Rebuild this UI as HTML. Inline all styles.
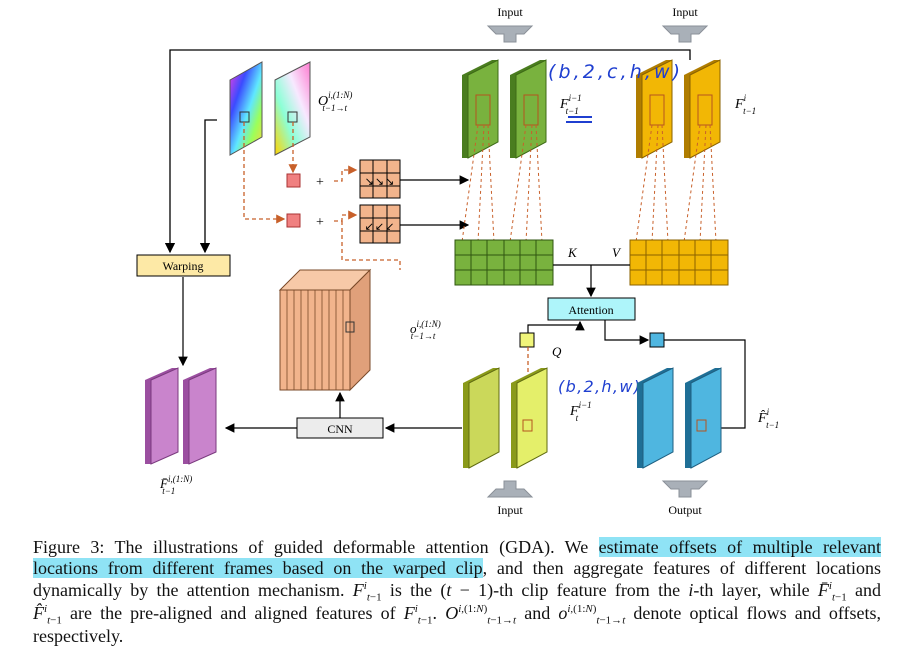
<!DOCTYPE html>
<html><head><meta charset="utf-8">
<style>
body{margin:0;background:#fff;width:901px;height:660px;overflow:hidden;position:relative;font-family:"Liberation Serif",serif;}
svg{position:absolute;left:0;top:0}
.cap{position:absolute;left:33px;width:848px;font-size:18px;line-height:21px;text-align:justify;text-align-last:justify;white-space:nowrap;color:#111}
.hl{background:#8fe3f5}
sub,sup{font-size:11px;line-height:0}
</style></head><body>
<svg width="901" height="530" viewBox="0 0 901 530" font-family="Liberation Serif, serif">
<defs>
<marker id="ar" markerWidth="8" markerHeight="8" refX="7" refY="4" orient="auto"><path d="M0,0L8,4L0,8z" fill="#000"/></marker>
<marker id="aro" markerWidth="7" markerHeight="7" refX="6" refY="3.5" orient="auto"><path d="M0,0L7,3.5L0,7z" fill="#c8602a"/></marker>
<linearGradient id="rb" x1="0" y1="0" x2="1" y2="1"><stop offset="0" stop-color="#ff3de0"/><stop offset=".3" stop-color="#3b4bff"/><stop offset=".55" stop-color="#5fe7ff"/><stop offset=".75" stop-color="#9bff5a"/><stop offset="1" stop-color="#ffd23b"/></linearGradient>
<linearGradient id="rb2" x1="1" y1="0" x2="0" y2="1"><stop offset="0" stop-color="#ff7ad0"/><stop offset=".35" stop-color="#f7e9ff"/><stop offset=".65" stop-color="#8cffd6"/><stop offset="1" stop-color="#ffd400"/></linearGradient>
</defs>
<text x="510" y="16" font-size="12" text-anchor="middle">Input</text>
<path d="M488,26h44l-8,8h-8v8h-12v-8h-8z" fill="#a9b0b8" stroke="#8a9098"/>
<text x="685" y="16" font-size="12" text-anchor="middle">Input</text>
<path d="M663,26h44l-8,8h-8v8h-12v-8h-8z" fill="#a9b0b8" stroke="#8a9098"/>
<polyline points="690,60 690,50 170,50 170,252" fill="none" stroke="#000" stroke-width="1.3" marker-end="url(#ar)"/>
<polyline points="217,120 205,120 205,252" fill="none" stroke="#000" stroke-width="1.3" marker-end="url(#ar)"/>
<polygon points="230,80 262,62 262,137 230,155" fill="url(#rb)" stroke="#555"/>
<polygon points="275,80 310,62 310,137 275,155" fill="url(#rb2)" stroke="#555"/>
<rect x="240" y="112" width="9" height="10" fill="none" stroke="#333"/><rect x="288" y="112" width="9" height="10" fill="none" stroke="#333"/>
<text x="318" y="105" font-size="14" font-style="italic">O<tspan font-size="9" dy="-7">i,(1:N)</tspan><tspan font-size="9" dx="-30" dy="13">t−1→t</tspan></text>
<path d="M244,122V219H284" fill="none" stroke="#c8602a" stroke-dasharray="4,3" stroke-width="1.3" marker-end="url(#aro)"/>
<path d="M293,122V172" fill="none" stroke="#c8602a" stroke-dasharray="4,3" stroke-width="1.3" marker-end="url(#aro)"/>
<rect x="287" y="174" width="13" height="13" fill="#f08080" stroke="#a33"/>
<rect x="287" y="214" width="13" height="13" fill="#f08080" stroke="#a33"/>
<text x="316" y="186" font-size="14">+</text><text x="316" y="226" font-size="14">+</text>
<path d="M334,181H342V170H356" fill="none" stroke="#c8602a" stroke-dasharray="4,3" stroke-width="1.3" marker-end="url(#aro)"/>
<path d="M334,221H342V215H356" fill="none" stroke="#c8602a" stroke-dasharray="4,3" stroke-width="1.3" marker-end="url(#aro)"/>
<path d="M342,221V260H400V270" fill="none" stroke="#c8602a" stroke-dasharray="4,3" stroke-width="1.3"/>
<g>
<rect x="360" y="160" width="40" height="38" fill="#f2b48c" stroke="#000"/>
<path d="M373,160V198M387,160V198M360,173H400M360,186H400" stroke="#000"/>
<text x="380" y="185" font-size="11" text-anchor="middle" letter-spacing="1">↘↘↘</text>
</g>
<g>
<rect x="360" y="205" width="40" height="38" fill="#f2b48c" stroke="#000"/>
<path d="M373,205V243M387,205V243M360,218H400M360,231H400" stroke="#000"/>
<text x="380" y="230" font-size="11" text-anchor="middle" letter-spacing="1">↙↙↙</text>
</g>
<line x1="400" y1="180" x2="468" y2="180" stroke="#000" stroke-width="1.2" marker-end="url(#ar)"/>
<line x1="400" y1="225" x2="468" y2="225" stroke="#000" stroke-width="1.2" marker-end="url(#ar)"/>
<rect x="137" y="255" width="93" height="21" fill="#fde9a6" stroke="#000"/>
<text x="183" y="270" font-size="12" text-anchor="middle">Warping</text>
<line x1="183" y1="277" x2="183" y2="365" stroke="#000" stroke-width="1.2" marker-end="url(#ar)"/>
<g>
<polygon points="145,380 172,368 178,368 178,452 151,464 145,464" fill="#9b4fa0"/>
<polygon points="151,380 178,368 178,452 151,464" fill="#c984cc" stroke="#7a3a7e"/>
<polygon points="183,380 210,368 216,368 216,452 189,464 183,464" fill="#9b4fa0"/>
<polygon points="189,380 216,368 216,452 189,464" fill="#c984cc" stroke="#7a3a7e"/>
</g>
<text x="160" y="488" font-size="13" font-style="italic">F̄<tspan font-size="9" dy="-6">i,(1:N)</tspan><tspan font-size="9" dx="-30" dy="12">t−1</tspan></text>
<rect x="297" y="418" width="86" height="20" fill="#ececec" stroke="#000"/>
<text x="340" y="433" font-size="12" text-anchor="middle">CNN</text>
<line x1="297" y1="428" x2="226" y2="428" stroke="#000" stroke-width="1.2" marker-end="url(#ar)"/>
<line x1="462" y1="428" x2="386" y2="428" stroke="#000" stroke-width="1.2" marker-end="url(#ar)"/>
<line x1="340" y1="418" x2="340" y2="393" stroke="#000" stroke-width="1.2" marker-end="url(#ar)"/>
<g>
<polygon points="280,290 300,270 370,270 350,290" fill="#f7c9a8" stroke="#7a4a2a"/>
<polygon points="350,290 370,270 370,370 350,390" fill="#e0a07a" stroke="#7a4a2a"/>
<rect x="280" y="290" width="70" height="100" fill="#f2b48c" stroke="#7a4a2a"/>
<path d="M287,290v100M294,290v100M301,290v100M308,290v100M315,290v100M322,290v100M329,290v100M336,290v100M343,290v100" stroke="#7a4a2a" stroke-width=".8"/>
<rect x="346" y="322" width="8" height="10" fill="none" stroke="#333"/>
</g>
<text x="410" y="333" font-size="13" font-style="italic">o<tspan font-size="9" dy="-6">i,(1:N)</tspan><tspan font-size="9" dx="-30" dy="12">t−1→t</tspan></text>
<g>
<polygon points="462,75 492,60 498,60 498,142 468,158 462,158" fill="#4a7d1f"/>
<polygon points="468,75 498,60 498,142 468,158" fill="#79b23e" stroke="#3d6a16"/>
<polygon points="510,75 540,60 546,60 546,142 516,158 510,158" fill="#4a7d1f"/>
<polygon points="516,75 546,60 546,142 516,158" fill="#79b23e" stroke="#3d6a16"/>
<rect x="476" y="95" width="14" height="30" fill="none" stroke="#b5541e"/><rect x="524" y="95" width="14" height="30" fill="none" stroke="#b5541e"/>
</g>
<g>
<polygon points="636,75 666,60 672,60 672,142 642,158 636,158" fill="#b07d00"/>
<polygon points="642,75 672,60 672,142 642,158" fill="#f2b705" stroke="#8a6200"/>
<polygon points="684,75 714,60 720,60 720,142 690,158 684,158" fill="#b07d00"/>
<polygon points="690,75 720,60 720,142 690,158" fill="#f2b705" stroke="#8a6200"/>
<rect x="650" y="95" width="14" height="30" fill="none" stroke="#b5541e"/><rect x="698" y="95" width="14" height="30" fill="none" stroke="#b5541e"/>
</g>
<g stroke="#c8602a" stroke-dasharray="3,3" stroke-width="1">
<path d="M478,125L462,242M484,125L478,242M488,125L494,242M526,125L510,242M532,125L526,242M536,125L542,242"/>
<path d="M652,125L636,242M658,125L652,242M662,125L668,242M700,125L684,242M706,125L700,242M710,125L716,242"/>
</g>
<text x="560" y="108" font-size="14" font-style="italic">F<tspan font-size="9" dy="-7">i−1</tspan><tspan font-size="9" dx="-16" dy="13">t−1</tspan></text>
<text x="735" y="108" font-size="14" font-style="italic">F<tspan font-size="9" dy="-7">i</tspan><tspan font-size="9" dx="-3" dy="13">t−1</tspan></text>
<text x="548" y="78" font-size="19" fill="#1f3fd0" font-family="DejaVu Sans, sans-serif" font-style="italic" textLength="132">(b,2,c,h,w)</text>
<path d="M568,117h24M566,122h26" stroke="#1f3fd0" stroke-width="2"/>
<text x="558" y="392" font-size="16" fill="#1f3fd0" font-family="DejaVu Sans, sans-serif" font-style="italic" textLength="82">(b,2,h,w)</text>
<g>
<rect x="455" y="240" width="98" height="45" fill="#79b23e" stroke="#2f5510"/>
<path d="M455,255H553M455,270H553M471,240V285M487,240V285M504,240V285M520,240V285M536,240V285" stroke="#2f5510"/>
</g>
<g>
<rect x="630" y="240" width="98" height="45" fill="#f2b705" stroke="#8a6200"/>
<path d="M630,255H728M630,270H728M646,240V285M662,240V285M679,240V285M695,240V285M711,240V285" stroke="#8a6200"/>
</g>
<text x="568" y="257" font-size="13" font-style="italic">K</text>
<text x="612" y="257" font-size="13" font-style="italic">V</text>
<line x1="553" y1="265" x2="630" y2="265" stroke="#000" stroke-width="1.2"/>
<line x1="591" y1="265" x2="591" y2="296" stroke="#000" stroke-width="1.2" marker-end="url(#ar)"/>
<rect x="548" y="298" width="87" height="22" fill="#aef5fa" stroke="#000"/>
<text x="591" y="314" font-size="12" text-anchor="middle">Attention</text>
<polyline points="528,333 528,325 580,325 580,322" fill="none" stroke="#000" stroke-width="1.2" marker-end="url(#ar)"/>
<rect x="520" y="333" width="14" height="14" fill="#f0f57a" stroke="#000"/>
<text x="552" y="356" font-size="13" font-style="italic">Q</text>
<polyline points="605,320 605,340 648,340" fill="none" stroke="#000" stroke-width="1.2" marker-end="url(#ar)"/>
<rect x="650" y="333" width="14" height="14" fill="#4fb6e0" stroke="#000"/>
<polyline points="664,340 745,340 745,428 705,428" fill="none" stroke="#000" stroke-width="1.2" marker-end="url(#ar)"/>
<path d="M528,347V420" stroke="#c8602a" stroke-dasharray="4,3" stroke-width="1.3"/>
<g>
<polygon points="463,383 493,368 499,368 499,452 469,468 463,468" fill="#8a9a1a"/>
<polygon points="469,383 499,368 499,452 469,468" fill="#cbd85a" stroke="#5f6a10"/>
<polygon points="511,383 541,368 547,368 547,452 517,468 511,468" fill="#8a9a1a"/>
<polygon points="517,383 547,368 547,452 517,468" fill="#e4ef6a" stroke="#5f6a10"/>
<rect x="523" y="420" width="9" height="11" fill="none" stroke="#b5541e"/>
</g>
<text x="570" y="415" font-size="14" font-style="italic">F<tspan font-size="9" dy="-7">i−1</tspan><tspan font-size="9" dx="-16" dy="13">t</tspan></text>
<g>
<polygon points="637,383 667,368 673,368 673,452 643,468 637,468" fill="#1f6f96"/>
<polygon points="643,383 673,368 673,452 643,468" fill="#4fb6e0" stroke="#1f5f80"/>
<polygon points="685,383 715,368 721,368 721,452 691,468 685,468" fill="#1f6f96"/>
<polygon points="691,383 721,368 721,452 691,468" fill="#4fb6e0" stroke="#1f5f80"/>
<rect x="697" y="420" width="9" height="11" fill="none" stroke="#b5541e"/>
</g>
<text x="758" y="422" font-size="14" font-style="italic">F̂<tspan font-size="9" dy="-7">i</tspan><tspan font-size="9" dx="-3" dy="13">t−1</tspan></text>
<path d="M488,497h44l-8,-8h-8v-8h-12v8h-8z" fill="#a9b0b8" stroke="#8a9098"/>
<text x="510" y="514" font-size="12" text-anchor="middle">Input</text>
<path d="M663,481h44l-8,8h-8v8h-12v-8h-8z" fill="#a9b0b8" stroke="#8a9098"/>
<text x="685" y="514" font-size="12" text-anchor="middle">Output</text>
</svg>
<div>
<div class="cap" style="top:537px">Figure 3: The illustrations of guided deformable attention (GDA). We <span class="hl">estimate offsets of multiple relevant</span></div>
<div class="cap" style="top:558px"><span class="hl">locations from different frames based on the warped clip</span>, and then aggregate features of different locations</div>
<div class="cap" style="top:580px">dynamically by the attention mechanism. <i>F</i><sup><i>i</i></sup><sub><i>t</i>−1</sub> is the (<i>t</i> − 1)-th clip feature from the <i>i</i>-th layer, while <i>F̄</i><sup><i>i</i></sup><sub><i>t</i>−1</sub> and</div>
<div class="cap" style="top:603px"><i>F̂</i><sup><i>i</i></sup><sub><i>t</i>−1</sub> are the pre-aligned and aligned features of <i>F</i><sup><i>i</i></sup><sub><i>t</i>−1</sub>. <i>O</i><sup><i>i</i>,(1:<i>N</i>)</sup><sub><i>t</i>−1→<i>t</i></sub> and <i>o</i><sup><i>i</i>,(1:<i>N</i>)</sup><sub><i>t</i>−1→<i>t</i></sub> denote optical flows and offsets,</div>
<div class="cap" style="top:626px;text-align-last:left">respectively.</div>
</div>
</body></html>
